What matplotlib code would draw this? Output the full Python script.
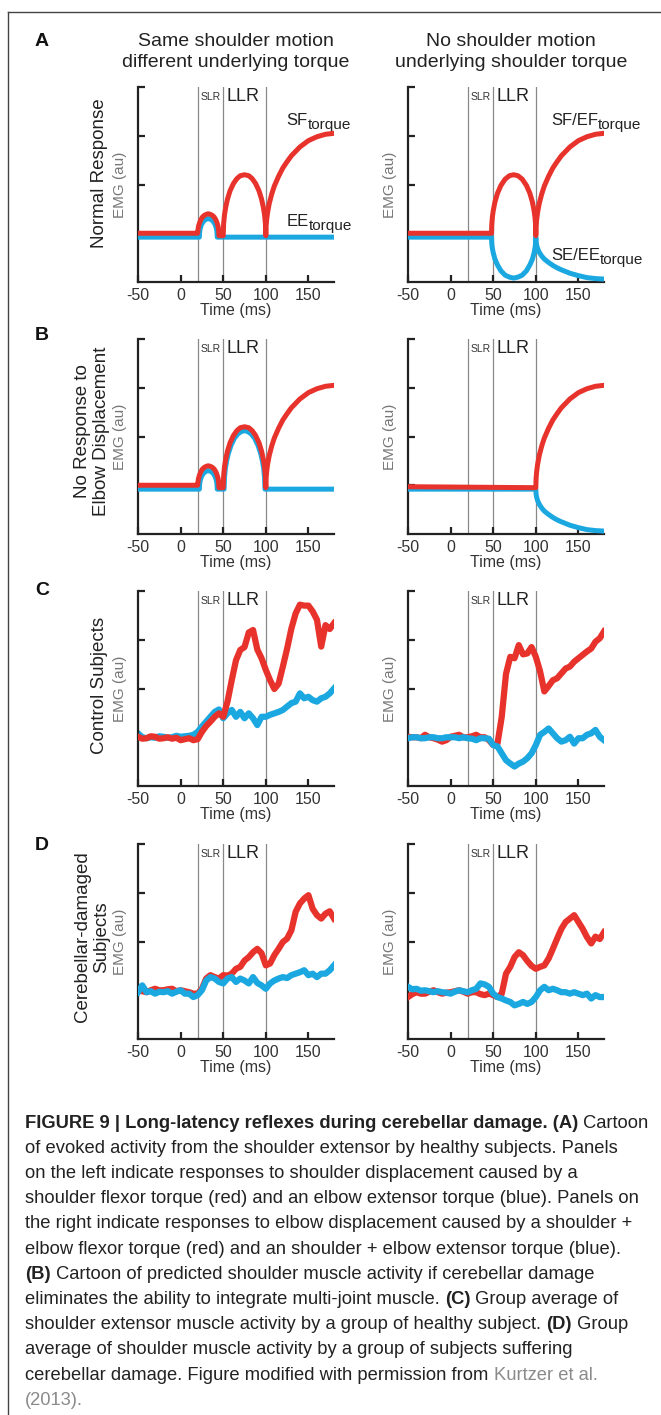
import matplotlib
matplotlib.use('Agg')
import matplotlib.pyplot as plt

W, H = 661, 1415
RED = '#e8332c'
BLUE = '#1ba8e0'
plt.rcParams['font.family'] = ['Liberation Sans', 'DejaVu Sans']
plt.rcParams['axes.unicode_minus'] = False

# ---- cartoon pieces (panels A, B): time in ms, EMG in au ----
slr_t = [20, 20.3, 21, 22, 23.5, 25.5, 28, 30.5, 32.5, 34.5, 37, 39.5, 41.5, 43, 44, 44.7, 45]
slr_red = [1.0, 1.06, 1.14, 1.20, 1.27, 1.33, 1.37, 1.39, 1.40, 1.39, 1.37, 1.33, 1.27, 1.20, 1.14, 1.06, 0.95]
slr_blue_t = [22, 22.3, 23, 24.5, 27, 30, 32.5, 35, 38, 40.5, 42, 42.7, 43]
slr_blue = [0.92, 1.02, 1.10, 1.18, 1.25, 1.29, 1.30, 1.29, 1.25, 1.18, 1.10, 1.02, 0.92]
llr_t = [50, 50.5, 51.5, 53, 55, 58, 62, 66, 70, 75, 80, 84, 88, 92, 95, 97, 98.5, 99.5, 100]
llr_red = [0.95, 1.20, 1.38, 1.54, 1.70, 1.87, 2.02, 2.12, 2.18, 2.20, 2.18, 2.12, 2.02, 1.87, 1.70, 1.54, 1.38, 1.20, 0.95]
llr_blue_t = [51, 51.5, 52.5, 54, 56, 59, 63, 67, 71, 75, 79, 83, 87, 91, 94, 96, 97.5, 98.5, 99]
llr_blue = [0.92, 1.16, 1.34, 1.50, 1.65, 1.81, 1.96, 2.05, 2.10, 2.12, 2.10, 2.05, 1.96, 1.81, 1.65, 1.50, 1.34, 1.16, 0.92]
vol_t = [100, 100.3, 101, 102, 104, 107, 110, 115, 120, 125, 130, 140, 150, 160, 170, 180]
vol_red = [0.95, 1.14, 1.28, 1.42, 1.61, 1.81, 1.97, 2.17, 2.34, 2.47, 2.59, 2.77, 2.90, 2.98, 3.03, 3.05]
vol_blue = [0.92, 0.82, 0.75, 0.69, 0.61, 0.53, 0.47, 0.40, 0.34, 0.29, 0.25, 0.18, 0.13, 0.09, 0.07, 0.06]
elb_t = [48, 48.3, 49, 50, 52, 55, 59, 64, 69, 74, 79, 84, 89, 93, 96, 98, 99, 99.7, 100]
elb_red = [1.0, 1.18, 1.33, 1.46, 1.64, 1.82, 1.98, 2.11, 2.18, 2.20, 2.18, 2.11, 1.98, 1.82, 1.64, 1.46, 1.33, 1.18, 0.95]
elb_blue = [0.92, 0.79, 0.69, 0.60, 0.47, 0.35, 0.23, 0.14, 0.10, 0.08, 0.10, 0.14, 0.23, 0.35, 0.47, 0.60, 0.69, 0.79, 0.92]

# ---- group averages (panels C, D), sampled every 5 ms ----
t_emg = list(range(-50, 181, 5))
c_left_red = [1.01, 0.97, 0.98, 1.02, 1.01, 0.97, 0.98, 1.00, 0.97, 0.99, 0.94, 0.96, 0.98, 0.94, 0.96,
              1.11, 1.23, 1.32, 1.42, 1.49, 1.42, 1.73, 2.17, 2.58, 2.79, 2.85, 3.15, 3.20, 2.80, 2.62,
              2.38, 2.17, 1.99, 2.10, 2.45, 2.82, 3.23, 3.54, 3.72, 3.70, 3.70, 3.58, 3.41, 2.86, 3.30,
              3.22, 3.34]
c_left_blue = [1.08, 1.00, 0.98, 1.00, 0.99, 1.02, 1.01, 0.99, 1.00, 1.03, 1.01, 1.02, 1.03, 1.05, 1.11,
               1.22, 1.32, 1.42, 1.52, 1.57, 1.39, 1.49, 1.56, 1.42, 1.52, 1.39, 1.49, 1.39, 1.25, 1.42,
               1.42, 1.46, 1.49, 1.52, 1.56, 1.63, 1.70, 1.73, 1.90, 1.80, 1.83, 1.76, 1.73, 1.80, 1.83,
               1.90, 2.00]
c_right_red = [1.01, 1.00, 1.00, 0.98, 1.05, 1.00, 0.98, 0.95, 0.91, 0.94, 1.01, 1.03, 1.05, 1.00, 1.00,
               1.02, 1.05, 1.00, 1.00, 0.94, 0.84, 0.87, 1.42, 2.30, 2.65, 2.62, 2.89, 2.70, 2.72, 2.85,
               2.65, 2.35, 1.94, 2.05, 2.17, 2.21, 2.31, 2.41, 2.45, 2.55, 2.62, 2.69, 2.76, 2.82, 2.96,
               3.03, 3.17]
c_right_blue = [0.98, 1.00, 1.00, 0.98, 0.98, 1.00, 1.00, 0.98, 0.98, 1.00, 1.00, 1.00, 0.98, 1.00, 0.98,
                0.97, 0.94, 0.98, 0.98, 0.97, 0.84, 0.81, 0.67, 0.53, 0.46, 0.40, 0.46, 0.50, 0.57, 0.67,
                0.84, 1.05, 1.11, 1.18, 1.08, 0.98, 0.91, 0.94, 1.01, 0.87, 0.98, 0.98, 1.05, 1.08, 1.15,
                1.01, 0.94]
d_left_red = [1.00, 0.98, 0.96, 1.00, 1.03, 1.00, 1.00, 1.02, 1.03, 0.98, 1.00, 0.98, 0.96, 0.93, 0.93,
              1.03, 1.24, 1.31, 1.27, 1.24, 1.31, 1.30, 1.34, 1.44, 1.48, 1.61, 1.68, 1.78, 1.85, 1.76,
              1.51, 1.55, 1.72, 1.85, 1.99, 2.06, 2.23, 2.61, 2.78, 2.88, 2.95, 2.67, 2.54, 2.47, 2.57,
              2.62, 2.47]
d_left_blue = [0.96, 1.10, 0.96, 0.98, 0.93, 0.97, 0.96, 0.98, 0.93, 0.97, 1.00, 0.93, 0.93, 0.86, 0.90,
               1.00, 1.20, 1.27, 1.24, 1.17, 1.14, 1.24, 1.27, 1.17, 1.24, 1.20, 1.14, 1.27, 1.15, 1.10,
               1.03, 1.14, 1.20, 1.24, 1.27, 1.25, 1.31, 1.34, 1.37, 1.41, 1.31, 1.34, 1.27, 1.34, 1.34,
               1.41, 1.51]
d_right_red = [0.86, 0.92, 0.96, 0.93, 0.93, 0.97, 1.00, 0.96, 0.93, 0.95, 0.96, 0.98, 1.00, 0.97, 0.93,
               0.96, 0.96, 0.92, 0.90, 0.93, 0.90, 0.86, 0.93, 1.34, 1.48, 1.68, 1.78, 1.72, 1.60, 1.50,
               1.44, 1.48, 1.51, 1.65, 1.85, 2.06, 2.26, 2.40, 2.47, 2.54, 2.40, 2.26, 2.09, 1.96, 2.10,
               2.05, 2.19]
d_right_blue = [1.07, 1.02, 1.03, 0.99, 1.00, 0.98, 0.96, 0.98, 0.96, 0.95, 0.93, 0.97, 1.00, 0.98, 0.96,
                1.00, 1.03, 1.14, 1.12, 1.07, 0.93, 0.86, 0.83, 0.79, 0.76, 0.69, 0.72, 0.76, 0.72, 0.76,
                0.86, 1.00, 1.07, 1.00, 1.03, 1.00, 0.96, 0.96, 0.93, 0.96, 0.93, 0.90, 0.93, 0.83, 0.90,
                0.86, 0.86]

row_labels = ['Normal Response', 'No Response to\nElbow Displacement',
              'Control Subjects', 'Cerebellar-damaged\nSubjects']
panel_letters = ['A', 'B', 'C', 'D']
col_titles = ['Same shoulder motion\ndifferent underlying torque',
              'No shoulder motion\nunderlying shoulder torque']
x_ticks = [-50, 0, 50, 100, 150]
epoch_lines = [20, 50, 100]

caption = [
    [('FIGURE 9 | Long-latency reflexes during cerebellar damage. (A)', 'bold', '#222222'), (' Cartoon', 'normal', '#222222')],
    [('of evoked activity from the shoulder extensor by healthy subjects. Panels', 'normal', '#222222')],
    [('on the left indicate responses to shoulder displacement caused by a', 'normal', '#222222')],
    [('shoulder flexor torque (red) and an elbow extensor torque (blue). Panels on', 'normal', '#222222')],
    [('the right indicate responses to elbow displacement caused by a shoulder +', 'normal', '#222222')],
    [('elbow flexor torque (red) and an shoulder + elbow extensor torque (blue).', 'normal', '#222222')],
    [('(B)', 'bold', '#222222'), (' Cartoon of predicted shoulder muscle activity if cerebellar damage', 'normal', '#222222')],
    [('eliminates the ability to integrate multi-joint muscle. ', 'normal', '#222222'), ('(C)', 'bold', '#222222'), (' Group average of', 'normal', '#222222')],
    [('shoulder extensor muscle activity by a group of healthy subject. ', 'normal', '#222222'), ('(D)', 'bold', '#222222'), (' Group', 'normal', '#222222')],
    [('average of shoulder muscle activity by a group of subjects suffering', 'normal', '#222222')],
    [('cerebellar damage. Figure modified with permission from ', 'normal', '#222222'), ('Kurtzer et al.', 'normal', '#8a8a8a')],
    [('(2013).', 'normal', '#8a8a8a')],
]

fig = plt.figure(figsize=(W / 100, H / 100), dpi=100)
bg = fig.add_axes([0, 0, 1, 1])
bg.axis('off')
bg.set_xlim(0, 1)
bg.set_ylim(0, 1)
# frame around the figure
bg.plot([8 / W, 8 / W], [0, 1 - 12 / H], color='#444444', lw=1)
bg.plot([8 / W, 1], [1 - 12 / H, 1 - 12 / H], color='#444444', lw=1)

tops = [87, 339, 591, 844]
lefts = [138, 408]
aw, ah = 196, 195


def make_axes(row, col):
    ax = fig.add_axes([lefts[col] / W, 1 - (tops[row] + ah) / H, aw / W, ah / H])
    ax.set_xlim(-50, 180)
    ax.set_ylim(0, 4)
    for s in ['top', 'right']:
        ax.spines[s].set_visible(False)
    for s in ['left', 'bottom']:
        ax.spines[s].set_linewidth(1.6)
        ax.spines[s].set_color('#222222')
    ax.set_xticks(x_ticks)
    ax.set_yticks([1, 2, 3, 4])
    ax.set_yticklabels([])
    ax.tick_params(direction='in', length=5, width=1.6, color='#222222',
                   labelsize=11.5, labelcolor='#333333', pad=4)
    ax.set_xlabel('Time (ms)', fontsize=11.5, color='#333333', labelpad=0)
    for t in epoch_lines:
        ax.axvline(t, color='#888888', lw=0.9, zorder=1)
    ax.text(35, 3.8, 'SLR', fontsize=7.5, ha='center', va='center', color='#333333')
    ax.text(54, 3.8, 'LLR', fontsize=13, ha='left', va='center', color='#222222')
    ax.set_ylabel('EMG (au)', fontsize=11, color='#777777', labelpad=4)
    return ax


def sub_label(ax, x, y, main, sub):
    t = ax.text(x, y, main, fontsize=12, color='#222222', va='center')
    ax.annotate(sub, xy=(1, 0), xycoords=t, xytext=(0, -3), textcoords='offset points',
                fontsize=11, color='#222222', va='bottom', ha='left')


lw_c = 3.6
lw_n = 4.5

# Panel A
ax = make_axes(0, 0)
ax.plot([-50] + slr_blue_t + [180], [0.92] + slr_blue + [0.92], color=BLUE, lw=lw_c, zorder=3)
ax.plot([-50] + slr_t + llr_t + vol_t, [1.0] + slr_red + llr_red + vol_red, color=RED, lw=lw_c, zorder=4)
sub_label(ax, 124, 3.32, 'SF', 'torque')
sub_label(ax, 124, 1.25, 'EE', 'torque')
ax = make_axes(0, 1)
ax.plot([-50] + elb_t + vol_t, [0.92] + elb_blue + vol_blue, color=BLUE, lw=lw_c, zorder=3)
ax.plot([-50] + elb_t + vol_t, [1.0] + elb_red + vol_red, color=RED, lw=lw_c, zorder=4)
sub_label(ax, 118, 3.32, 'SF/EF', 'torque')
sub_label(ax, 118, 0.55, 'SE/EE', 'torque')

# Panel B
ax = make_axes(1, 0)
ax.plot([-50] + slr_blue_t + llr_blue_t + [180], [0.92] + slr_blue + llr_blue + [0.92],
        color=BLUE, lw=lw_c, zorder=3)
ax.plot([-50] + slr_t + llr_t + vol_t, [1.0] + slr_red + llr_red + vol_red, color=RED, lw=lw_c, zorder=4)
ax = make_axes(1, 1)
ax.plot([-50] + vol_t, [0.92] + vol_blue, color=BLUE, lw=lw_c, zorder=3)
ax.plot([-50] + vol_t, [0.97] + vol_red, color=RED, lw=lw_c, zorder=4)

# Panel C
ax = make_axes(2, 0)
ax.plot(t_emg, c_left_red, color=RED, lw=lw_n, zorder=3)
ax.plot(t_emg, c_left_blue, color=BLUE, lw=lw_n, zorder=2.5)
ax = make_axes(2, 1)
ax.plot(t_emg, c_right_red, color=RED, lw=lw_n, zorder=3)
ax.plot(t_emg, c_right_blue, color=BLUE, lw=lw_n, zorder=4)

# Panel D
ax = make_axes(3, 0)
ax.plot(t_emg, d_left_red, color=RED, lw=lw_n, zorder=3)
ax.plot(t_emg, d_left_blue, color=BLUE, lw=lw_n, zorder=4)
ax = make_axes(3, 1)
ax.plot(t_emg, d_right_red, color=RED, lw=lw_n, zorder=3)
ax.plot(t_emg, d_right_blue, color=BLUE, lw=lw_n, zorder=4)

# titles, letters, row labels
fig.text(236 / W, 1 - 52 / H, col_titles[0], fontsize=14, ha='center', va='center',
         linespacing=1.25, color='#222222')
fig.text(511 / W, 1 - 52 / H, col_titles[1], fontsize=14, ha='center', va='center',
         linespacing=1.25, color='#222222')
letter_y = [42, 336, 590, 845]
row_y = [173, 431, 685, 937]
for i in range(4):
    fig.text(42 / W, 1 - letter_y[i] / H, panel_letters[i], fontsize=14, fontweight='bold',
             ha='center', va='center', color='#111111')
    fig.text(92 / W if '\n' in row_labels[i] else 99 / W, 1 - row_y[i] / H, row_labels[i],
             fontsize=13.5, rotation=90, ha='center', va='center', multialignment='center',
             linespacing=1.15, color='#222222')

# caption
for i, parts in enumerate(caption):
    y = 1 - (1123 + i * 25.2) / H
    txt, weight, color = parts[0]
    prev = bg.text(25 / W, y, txt, fontsize=13.2, fontweight=weight, color=color, va='center')
    for txt, weight, color in parts[1:]:
        prev = bg.annotate(txt, xy=(1, 0), xycoords=prev, va='bottom', ha='left',
                           fontsize=13.2, fontweight=weight, color=color)

fig.savefig('out.png', dpi=100)
